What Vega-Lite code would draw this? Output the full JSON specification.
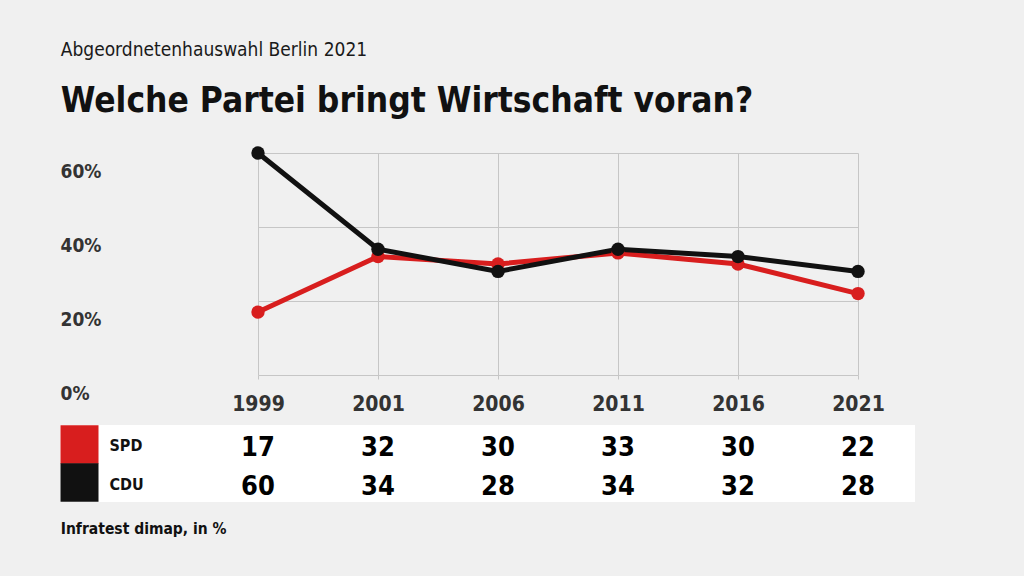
{
  "$schema": "https://vega.github.io/schema/vega-lite/v6.json",
  "background": "#f0f0f0",
  "padding": {"left": 40, "top": 41, "right": 109, "bottom": 40},
  "title": {
    "text": "Abgeordnetenhauswahl Berlin 2021",
    "subtitle": "Welche Partei bringt Wirtschaft voran?",
    "anchor": "start",
    "dx": 20,
    "font": "DejaVu Sans Condensed",
    "fontSize": 19,
    "fontWeight": "normal",
    "color": "#1a1a1a",
    "subtitleFont": "DejaVu Sans Condensed",
    "subtitleFontSize": 35,
    "subtitleFontWeight": "bold",
    "subtitleColor": "#111111",
    "subtitlePadding": 24,
    "offset": 24
  },
  "data": {
    "values": [
      {"Partei": "SPD", "Jahr": "1999", "Wert": 17},
      {"Partei": "SPD", "Jahr": "2001", "Wert": 32},
      {"Partei": "SPD", "Jahr": "2006", "Wert": 30},
      {"Partei": "SPD", "Jahr": "2011", "Wert": 33},
      {"Partei": "SPD", "Jahr": "2016", "Wert": 30},
      {"Partei": "SPD", "Jahr": "2021", "Wert": 22},
      {"Partei": "CDU", "Jahr": "1999", "Wert": 60},
      {"Partei": "CDU", "Jahr": "2001", "Wert": 34},
      {"Partei": "CDU", "Jahr": "2006", "Wert": 28},
      {"Partei": "CDU", "Jahr": "2011", "Wert": 34},
      {"Partei": "CDU", "Jahr": "2016", "Wert": 32},
      {"Partei": "CDU", "Jahr": "2021", "Wert": 28}
    ]
  },
  "bounds": "flush",
  "spacing": 50,
  "config": {"view": {"stroke": null}, "font": "DejaVu Sans Condensed"},
  "vconcat": [
    {
      "width": 798,
      "height": 222,
      "mark": {"type": "line", "strokeWidth": 5, "point": {"filled": true, "size": 180}},
      "encoding": {
        "x": {
          "field": "Jahr", "type": "ordinal", "sort": null,
          "scale": {"type": "point", "range": [198, 798], "padding": 0},
          "axis": {
            "title": null, "domain": false, "grid": true, "gridColor": "#c6c6c6",
            "ticks": true, "tickSize": 4, "tickColor": "#c6c6c6", "labelAngle": 0,
            "labelFontSize": 21, "labelFontWeight": "bold", "labelColor": "#333333", "labelPadding": 14
          }
        },
        "y": {
          "field": "Wert", "type": "quantitative",
          "scale": {"domain": [0, 60], "nice": false},
          "axis": {
            "title": null, "values": [0, 20, 40, 60], "labelExpr": "datum.value + '%'",
            "domain": false, "ticks": false, "grid": true, "gridColor": "#c6c6c6",
            "labelAlign": "left", "labelBaseline": "top", "labelPadding": 0, "labelOffset": 9,
            "labelFontSize": 19, "labelFontWeight": "bold", "labelColor": "#333333"
          }
        },
        "color": {
          "field": "Partei", "type": "nominal",
          "scale": {"domain": ["SPD", "CDU"], "range": ["#d81e1e", "#111111"]},
          "legend": null
        }
      }
    },
    {
      "width": 855,
      "height": 77,
      "view": {"fill": "white", "stroke": null},
      "title": {
        "text": "Infratest dimap, in %", "orient": "bottom", "anchor": "start", "dx": 20,
        "fontSize": 15.5, "fontWeight": "bold", "color": "#111111", "offset": 20
      },
      "mark": {"type": "text", "fontSize": 27, "fontWeight": "bold", "color": "#000000", "dy": 4},
      "encoding": {
        "x": {
          "field": "Jahr", "type": "ordinal", "sort": null,
          "scale": {"type": "point", "range": [198, 798], "padding": 0},
          "axis": null
        },
        "y": {
          "field": "Partei", "type": "nominal", "sort": ["SPD", "CDU"],
          "scale": {"type": "band", "paddingInner": 0, "paddingOuter": 0},
          "axis": {
            "title": null, "domain": false, "grid": false, "ticks": true,
            "tickSize": -38, "tickWidth": 38.5, "tickCap": "butt", "bandPosition": 0.5,
            "tickColor": {"condition": {"test": "datum.value === 'SPD'", "value": "#d81e1e"}, "value": "#111111"},
            "labelAlign": "left", "labelPadding": -11, "labelOffset": 2,
            "labelFontSize": 16, "labelFontWeight": "bold", "labelColor": "#111111"
          }
        },
        "text": {"field": "Wert", "type": "quantitative"}
      }
    }
  ]
}
